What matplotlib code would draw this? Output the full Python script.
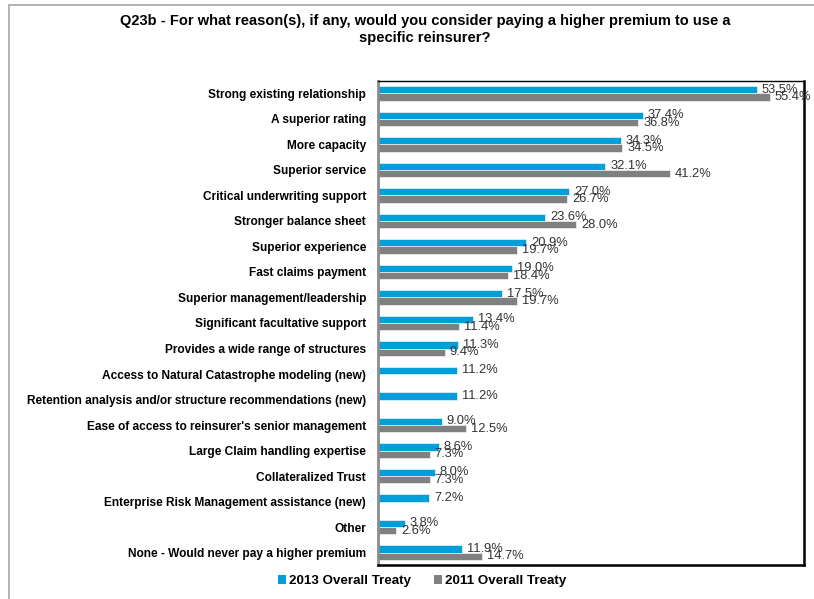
import matplotlib
matplotlib.use('Agg')
import matplotlib.pyplot as plt
from matplotlib.patches import Rectangle, Patch
import numpy as np

plt.rcParams['font.family'] = ['Liberation Sans', 'DejaVu Sans']

# survey responses (percent of respondents)
reasons = ['Strong existing relationship', 'A superior rating', 'More capacity', 'Superior service',
           'Critical underwriting support', 'Stronger balance sheet', 'Superior experience',
           'Fast claims payment', 'Superior management/leadership', 'Significant facultative support',
           'Provides a wide range of structures', 'Access to Natural Catastrophe modeling (new)',
           'Retention analysis and/or structure recommendations (new)',
           "Ease of access to reinsurer's senior management", 'Large Claim handling expertise',
           'Collateralized Trust', 'Enterprise Risk Management assistance (new)', 'Other',
           'None - Would never pay a higher premium']
pct_2013 = [53.5, 37.4, 34.3, 32.1, 27.0, 23.6, 20.9, 19.0, 17.5, 13.4, 11.3, 11.2, 11.2,
            9.0, 8.6, 8.0, 7.2, 3.8, 11.9]
pct_2011 = [55.4, 36.8, 34.5, 41.2, 26.7, 28.0, 19.7, 18.4, 19.7, 11.4, 9.4, None, None,
            12.5, 7.3, 7.3, None, 2.6, 14.7]
series = ['2013 Overall Treaty', '2011 Overall Treaty']

blue = '#009fda'
grey = '#808080'

fig = plt.figure(figsize=(8.14, 5.99), dpi=100)
ax = fig.add_axes([378 / 814, 1 - 565 / 599, 426 / 814, 484 / 599])

y = np.arange(len(reasons))
h = 0.29
for i in range(len(reasons)):
    v13 = pct_2013[i]
    v11 = pct_2011[i]
    ax.barh(y[i] - h / 2, v13, height=h, color=blue, edgecolor='white', linewidth=0.4)
    ax.text(v13 + 0.7, y[i] - h / 2, '{:.1f}%'.format(v13), va='center', ha='left',
            fontsize=9.3, color='#333333')
    if v11 is not None:
        ax.barh(y[i] + h / 2, v11, height=h, color=grey, edgecolor='white', linewidth=0.4)
        ax.text(v11 + 0.7, y[i] + h / 2, '{:.1f}%'.format(v11), va='center', ha='left',
                fontsize=9.3, color='#333333')

ax.set_xlim(0, 60.2)
ax.set_ylim(len(reasons) - 0.51, -0.49)
ax.set_xticks([])
ax.set_yticks(y)
ax.set_yticklabels(reasons, fontsize=8.55, fontweight='bold')
ax.tick_params(axis='y', length=0, pad=8.5)

ax.spines['left'].set_color('#8c8c8c')
ax.spines['left'].set_linewidth(2)
ax.spines['top'].set_linewidth(1)
ax.spines['right'].set_linewidth(1.8)
ax.spines['bottom'].set_linewidth(1.8)

fig.text(425 / 814, 1 - 29.5 / 599,
         'Q23b - For what reason(s), if any, would you consider paying a higher premium to use a\n'
         'specific reinsurer?', ha='center', va='center', fontsize=10.5, fontweight='bold',
         linespacing=1.25)

handles = [Patch(facecolor=blue, label=series[0]), Patch(facecolor=grey, label=series[1])]
fig.legend(handles=handles, loc='center', bbox_to_anchor=(422 / 814, 1 - 581 / 599), ncol=2,
           frameon=False, prop={'weight': 'bold', 'size': 9.6}, handlelength=0.6,
           handleheight=0.6, handletextpad=0.25, columnspacing=1.7)

# outer frame
fig.patches.append(Rectangle((9 / 814, -0.05), 1.0, 1 - 5 / 599 + 0.05, transform=fig.transFigure,
                             fill=False, edgecolor='#a6a6a6', linewidth=1.2))

fig.savefig('out.png', dpi=100)
